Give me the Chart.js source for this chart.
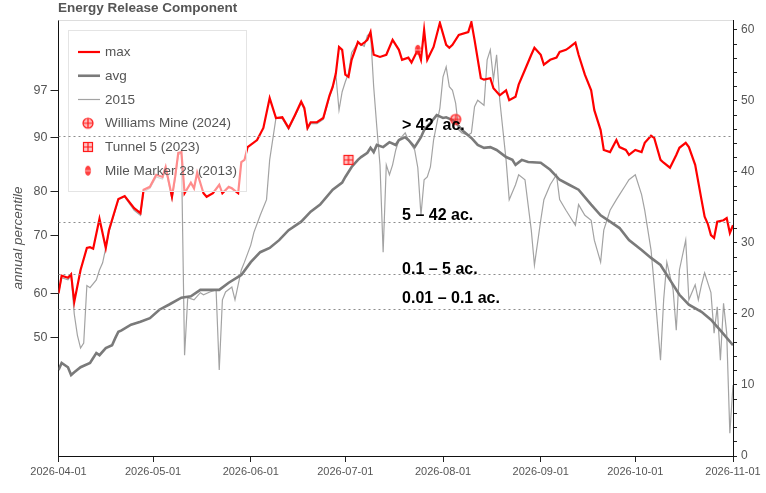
<!DOCTYPE html>
<html><head><meta charset="utf-8">
<script src="https://cdn.jsdelivr.net/npm/chart.js@4/dist/chart.umd.min.js"></script>
<style>html,body{margin:0;padding:0;background:#fff}</style>
</head><body>
<canvas id="c" width="766" height="493"></canvas>
<script>
// ---------- DATA ----------
const chartTitle = 'Energy Release Component';
const monthTicks  = [0, 30, 61, 91, 122, 153, 183, 214];   // days since 2026-04-01
const monthLabels = ['2026-04-01','2026-05-01','2026-06-01','2026-07-01','2026-08-01','2026-09-01','2026-10-01','2026-11-01'];
const percentileLabels = ['50','60','70','80','90','97'];
const percentileAtErc  = [16.7, 22.9, 31.0, 37.2, 44.9, 51.5];

const maxDays = [0,1,3,4,5,7,9,10,11,13, 15,16,19,21,24,26,27,29,31,33, 34,36,37,38,39,40,42,43,44,46,
  47,49,51,52,54,55,57,58,59,60, 63,65,67,69,71,73,75,77,78,79, 80,82,84,85,86,87,88,89,90,91,
  92,93,95,96,97,98,99,100,102,104, 106,108,109,111,112,114,115,116,117,119, 121,123,124,125,127,130,131,132,134,135,
  137,138,140,142,143,145,146,148,150,151, 153,154,156,158,159,161,162,164,165,167, 169,170,172,173,175,177,178,180,181,183,
  185,186,188,189,191,192,194,196,197,199, 200,202,204,205,206,207,208,209,211,212, 213,214];
const maxVals = [22.9,25.4,25.1,25.6,21.7,26.2,29.3,29.4,29.2,33.4, 29.3,31.8,36.2,36.6,34.9,34.2,37.5,37.9,39.6,39.3, 40.7,36.5,39.3,42.7,42.8,37.0,38.5,37.7,39.9,37.0,
  36.5,37.0,38.2,37.0,37.9,37.7,37.0,41.4,41.7,43.5, 44.5,46.2,50.4,47.6,47.7,46.2,48.0,49.9,49.0,46.2, 47.0,47.0,47.6,49.2,50.8,52.0,53.9,57.6,57.2,53.7,
  53.4,55.8,58.3,57.9,58.2,58.6,59.7,56.5,56.2,56.5, 58.6,57.2,55.8,56.1,55.4,57.2,55.8,60.0,55.8,57.6, 61.0,57.9,57.5,57.9,59.3,59.7,61.1,58.6,53.2,53.0,
  53.2,51.8,50.8,51.5,50.1,50.6,52.3,54.4,56.5,57.5, 56.5,55.1,55.8,56.1,56.9,57.2,57.5,58.2,56.5,53.7, 51.5,48.7,45.9,43.1,42.8,44.5,43.5,43.1,42.4,43.1,
  42.8,44.1,45.1,44.8,41.7,41.3,40.6,42.4,43.4,44.1, 43.5,41.0,36.1,33.7,32.7,31.1,30.7,33.0,33.2,33.5, 31.4,32.5];

const avgDays = [0,1,3,4,5,7,10,12,13,15, 17,18,19,20,23,26,29,32,35,39, 42,45,48,51,54,58,61,64,67,70,
  73,77,80,83,87,90,91,93,95,96, 98,99,100,101,103,105,107,108,110,111, 113,115,116,118,120,122,123,125,126,128,
  131,133,135,137,139,142,144,145,147,149, 153,156,159,162,165,169,172,175,178,181, 185,188,191,194,197,200,204,207,210,214];
const avgVals = [12.1,13.1,12.5,11.4,11.8,12.5,13.1,14.5,14.2,15.2, 15.6,16.6,17.5,17.7,18.5,18.9,19.4,20.6,21.3,22.3, 22.5,23.4,23.4,23.4,24.4,25.5,27.3,28.7,29.3,30.4,
  31.8,33.0,34.4,35.4,37.5,38.5,39.3,40.7,41.7,42.1, 42.7,43.4,42.8,43.8,43.5,44.2,43.8,44.5,44.9,44.5, 43.5,44.9,45.9,46.9,48.0,47.6,47.7,47.3,47.0,45.9,
  44.8,43.8,43.4,43.5,43.1,42.1,41.7,41.0,41.7,41.4, 41.3,40.3,38.9,38.2,37.5,35.4,33.9,33.0,32.1,30.4, 29.0,27.9,26.9,24.8,22.7,21.3,20.3,19.2,17.7,15.6];

const y2015Days = [0,1,3,4,5,6,7,8,9,10, 12,13,14,15,16,19,21,24,26,27, 29,31,33,34,36,37,38,39,40,41,
  43,45,46,48,50,51,52,53,55,56, 58,59,61,62,64,66,67,69,71,73, 75,77,78,79,80,82,84,85,86,87,
  88,89,90,91,92,93,95,97,98,99, 100,101,102,103,104,105,106,107,108,110, 111,113,114,115,116,117,118,119,121,122,
  123,124,125,126,127,128,130,131,132,133, 135,136,137,138,139,140,142,143,145,146, 148,150,151,153,154,156,158,159,161,162,
  164,165,167,169,170,172,173,175,177,178, 180,181,183,185,186,188,189,191,192,193, 195,196,197,199,200,202,203,204,205,207,
  208,209,210,211,212,213,214];
const y2015Vals = [22.9,25.1,24.8,25.4,20.0,17.0,15.2,15.9,24.0,23.7, 24.8,26.2,27.2,29.3,31.5,36.1,36.5,34.6,33.9,37.2, 37.7,39.3,39.0,40.4,36.2,39.0,42.4,42.7,14.2,22.3,
  22.0,23.0,22.7,23.1,23.4,12.1,22.0,23.1,23.8,22.0, 26.2,27.3,29.7,31.5,33.9,36.1,41.7,47.6,47.5,46.0, 47.8,49.7,48.8,46.0,46.8,46.8,47.4,49.0,50.6,51.8,
  53.7,48.7,51.3,52.7,53.9,56.8,58.2,57.7,59.2,59.6, 52.0,46.3,41.0,28.7,41.0,39.6,41.0,43.1,44.5,45.5, 44.5,43.1,40.6,33.9,38.9,39.3,40.7,44.5,49.0,53.4,
  54.8,52.0,51.5,49.7,45.9,45.5,45.2,45.5,49.2,50.1, 49.4,55.8,57.2,53.0,56.5,50.1,41.7,36.1,38.2,39.6, 38.9,31.8,26.9,33.2,36.1,38.2,39.6,36.1,34.6,33.9,
  32.5,35.4,33.9,33.2,30.4,27.3,31.8,34.6,36.1,36.8, 38.2,38.9,39.6,36.8,34.6,29.0,24.1,13.5,22.0,27.3, 23.4,17.7,26.2,30.4,22.0,24.1,22.0,24.1,25.8,23.0,
  17.3,21.0,13.5,21.5,17.3,3.2,10.0];

const markerNames = ['Williams Mine (2024)','Tunnel 5 (2023)','Mile Marker 28 (2013)'];
const markerDays  = [126, 92, 114];
const markerVals  = [47.4, 41.7, 57.2];

const sizeClassNames  = ['> 42  ac.','5 \u2013 42 ac.','0.1 \u2013 5 ac.','0.01 \u2013 0.1 ac.'];
const sizeClassLimits = [45.1, 33.0, 25.6, 20.7];
const sizeClassLabelAt = [46.6, 33.9, 26.2, 22.1];
const sizeClassLabelDay = 109;

// ---------- STYLE / BUILD ----------
const FONT = "'Liberation Sans', Arial, sans-serif";
Chart.defaults.font.family = FONT;
Chart.defaults.color = '#555';

function pts(d, v){ return d.map((x,i)=>({x:x, y:v[i]})); }

function makeIcon(kind){
  const c = document.createElement('canvas'); c.width = 14; c.height = 14;
  const g = c.getContext('2d');
  g.strokeStyle = '#ff1a1a'; g.lineWidth = 1.2;
  if (kind === 0){
    g.fillStyle = 'rgba(255,60,60,0.35)';
    g.beginPath(); g.arc(7,7,5,0,Math.PI*2); g.fill(); g.stroke();
    g.beginPath(); g.moveTo(2,7); g.lineTo(12,7); g.moveTo(7,2); g.lineTo(7,12); g.stroke();
  } else if (kind === 1){
    g.fillStyle = 'rgba(255,60,60,0.3)';
    g.fillRect(2,2,10,10); g.strokeRect(2.5,2.5,9,9);
    g.beginPath(); g.moveTo(2,7); g.lineTo(12,7); g.moveTo(7,2); g.lineTo(7,12); g.stroke();
  } else {
    g.fillStyle = 'rgba(255,30,30,0.85)';
    g.beginPath(); g.ellipse(7,7,3,5,0,0,Math.PI*2); g.fill();
    g.strokeStyle = 'rgba(255,200,200,0.9)'; g.lineWidth = 1;
    g.beginPath(); g.moveTo(3.5,7); g.lineTo(10.5,7); g.stroke();
  }
  return c;
}
const icons = [makeIcon(0), makeIcon(1), makeIcon(2)];

const datasets = [
  {label:'max', data: pts(maxDays, maxVals), borderColor:'#ff0000', borderWidth:2.2, pointRadius:0, tension:0, yAxisID:'y', order:1},
  {label:'avg', data: pts(avgDays, avgVals), borderColor:'#7a7a7a', borderWidth:2.6, pointRadius:0, tension:0, yAxisID:'y', order:2},
  {label:'2015', data: pts(y2015Days, y2015Vals), borderColor:'#a3a3a3', borderWidth:1.2, pointRadius:0, tension:0, yAxisID:'y', order:3},
];
markerNames.forEach((n,i)=>{
  datasets.push({label:n, data:[{x:markerDays[i], y:markerVals[i]}], showLine:false,
    pointStyle: icons[i], pointRadius:7, yAxisID:'y', order:0});
});

const overlay = {
  id:'overlay',
  afterDatasetsDraw(chart){
    const {ctx, chartArea:a, scales} = chart;
    const xs = scales.x, ys = scales.y;
    ctx.save();
    // top border
    ctx.strokeStyle = '#dddddd'; ctx.lineWidth = 1;
    ctx.beginPath(); ctx.moveTo(a.left, a.top+0.5); ctx.lineTo(a.right, a.top+0.5); ctx.stroke();
    // legend box
    const L = {x:68.5, y:30.5, w:178, h:161};
    ctx.fillStyle = 'rgba(255,255,255,0.55)';
    ctx.fillRect(L.x, L.y, L.w, L.h);
    ctx.strokeStyle = '#e4e4e4'; ctx.strokeRect(L.x, L.y, L.w, L.h);
    ctx.font = '13.5px ' + FONT; ctx.textBaseline = 'middle'; ctx.textAlign = 'left';
    chart.data.datasets.forEach((ds,i)=>{
      const yy = 52 + i*23.75;
      if (i < 3){
        ctx.strokeStyle = ds.borderColor; ctx.lineWidth = ds.borderWidth;
        ctx.beginPath(); ctx.moveTo(78, yy); ctx.lineTo(100, yy); ctx.stroke();
      } else {
        ctx.drawImage(ds.pointStyle, 88-7, yy-7);
      }
      ctx.fillStyle = '#555';
      ctx.fillText(ds.label, 105, yy+0.5);
    });
    // dotted size-class lines
    ctx.strokeStyle = '#8c8c8c'; ctx.lineWidth = 1; ctx.setLineDash([2,3]);
    sizeClassLimits.forEach(v=>{
      const py = Math.round(ys.getPixelForValue(v)) + 0.5;
      ctx.beginPath(); ctx.moveTo(a.left, py); ctx.lineTo(a.right, py); ctx.stroke();
    });
    ctx.setLineDash([]);
    // labels
    ctx.font = 'bold 16px ' + FONT; ctx.fillStyle = '#000';
    const lx = xs.getPixelForValue(sizeClassLabelDay);
    sizeClassNames.forEach((t,i)=>{
      ctx.fillText(t, lx, ys.getPixelForValue(sizeClassLabelAt[i]));
    });
    ctx.restore();
  },
  afterDraw(chart){
    const ctx = chart.ctx;
    ctx.save();
    ctx.font = 'bold 13.5px ' + FONT; ctx.fillStyle = '#555';
    ctx.textBaseline = 'middle'; ctx.textAlign = 'left';
    ctx.fillText(chartTitle, 58, 8.5);
    ctx.restore();
  }
};

const rightTicks = [];
for (let v = 0; v <= 60; v += 2) rightTicks.push(v);

new Chart(document.getElementById('c'), {
  type:'line',
  data:{datasets},
  options:{
    responsive:false, animation:false, devicePixelRatio:1,
    layout:{padding:{top:20, left:0, right:0, bottom:0}},
    plugins:{legend:{display:false}, tooltip:{enabled:false}, title:{display:false}},
    scales:{
      x:{type:'linear', position:'bottom', min:0, max:214,
        afterBuildTicks(s){ s.ticks = monthTicks.map(v=>({value:v})); },
        afterFit(s){ s.height = 37; },
        ticks:{autoSkip:false, maxRotation:0, padding:3, font:{size:11}, color:'#555',
          callback:(v)=>{ const i = monthTicks.indexOf(v); return i>=0 ? monthLabels[i] : ''; }},
        grid:{drawOnChartArea:false, tickLength:6, color:'#222'},
        border:{color:'#111', width:1}
      },
      y:{type:'linear', position:'right', min:0, max:61.4,
        afterBuildTicks(s){ s.ticks = rightTicks.map(v=>({value:v})); },
        afterFit(s){ s.width = 33; },
        ticks:{autoSkip:false, padding:4, font:{size:12}, color:'#555',
          callback:(v)=> (v % 10 === 0 ? String(v) : '')},
        grid:{drawOnChartArea:false, tickLength:4, color:'#222'},
        border:{color:'#111', width:1}
      },
      yl:{type:'linear', position:'left', min:0, max:61.4,
        afterBuildTicks(s){ s.ticks = percentileAtErc.map(v=>({value:v})); },
        afterFit(s){ s.width = 58.5; },
        ticks:{autoSkip:false, padding:3, font:{size:12.5}, color:'#555',
          callback:(v)=>{ const i = percentileAtErc.indexOf(v); return i>=0 ? percentileLabels[i] : ''; }},
        grid:{drawOnChartArea:false, tickLength:8, color:'#222'},
        border:{color:'#111', width:1},
        title:{display:true, text:'annual percentile', color:'#555', padding:{top:10, bottom:0},
          font:{size:13.5, style:'italic'}}
      }
    }
  },
  plugins:[overlay]
});
</script>
</body></html>
